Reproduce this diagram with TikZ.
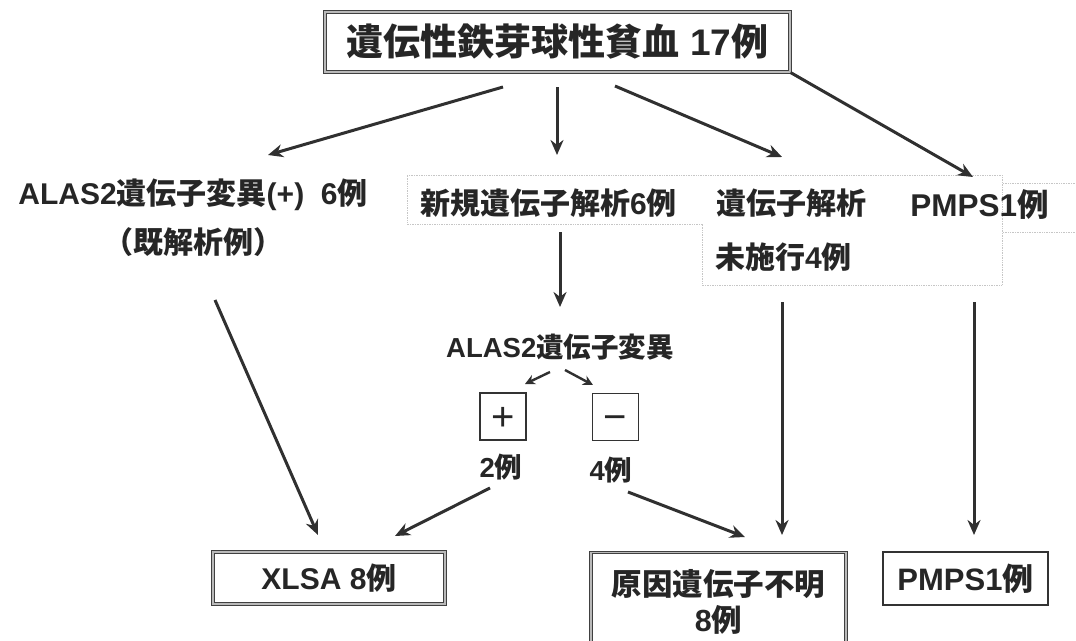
\documentclass[tikz,border=0pt]{standalone}
\usepackage{fontspec}
\setmainfont{Liberation Sans}
\newfontfamily\jpn{Noto Sans CJK JP}
\usetikzlibrary{arrows.meta}
\definecolor{ink}{HTML}{262626}
\definecolor{lineink}{HTML}{303030}
\begin{document}
\begin{tikzpicture}[x=1pt,y=-1pt,
  txt/.style={inner sep=0pt, text=ink, font=\bfseries\fontsize{30}{34}\selectfont},
  midtxt/.style={inner sep=0pt, text=ink, font=\bfseries\fontsize{27.5}{30}\selectfont},
  dbox/.style={draw=black!75, line width=1pt, double=gray!55, double distance=1.6pt, fill=white, inner sep=0pt},
  sbox/.style={draw=black!80, line width=2pt, fill=white, inner sep=0pt},
  pmbox/.style={draw=black!80, line width=1.2pt, fill=white, inner sep=0pt, minimum width=46pt, minimum height=47pt, text=ink, font=\fontsize{40}{40}\selectfont},
  faint/.style={draw=gray!45, line width=0.7pt, densely dotted},
  arr/.style={draw=lineink, line width=3pt, -{Stealth[length=15pt,width=13pt]}},
  sarr/.style={draw=lineink, line width=2.4pt, -{Stealth[length=10pt,width=10pt]}}
]
\useasboundingbox (0,0) rectangle (1076,640);

% faint boxes
\draw[faint] (703,224) -- (407,224) -- (407,175) -- (1002,175) -- (1002,285) -- (702,285) -- (702,224);
\draw[faint] (1003,183) -- (1080,183) (1003,232) -- (1080,232);

% top
\node[dbox, minimum width=465pt, minimum height=60pt, text=ink, font=\bfseries\fontsize{37}{40}\selectfont] (top) at (557.5,42)
  {{\jpn 遺伝性鉄芽球性貧血} 17{\jpn 例}};

% second row
\node[txt] (alas) at (193,195) {ALAS2{\jpn 遺伝子変異}(+)\ \ 6{\jpn 例}};
\node[txt] (kikai) at (193,242) {\jpn （既解析例）};
\node[txt] (shinki) at (548.5,203) {{\jpn 新規遺伝子解析}6{\jpn 例}};
\node[txt] (mi1) at (791,203) {\jpn 遺伝子解析};
\node[txt, anchor=west] (mi2) at (715,257) {{\jpn 未施行}4{\jpn 例}};
\node[txt, font=\bfseries\fontsize{31.5}{34}\selectfont] (pmps1) at (979.5,205) {PMPS1{\jpn 例}};

% middle
\node[midtxt] (alas2) at (560,347) {ALAS2{\jpn 遺伝子変異}};
\node[pmbox] (plus) at (503,416.5) {\smash{\raisebox{-13.5pt}{+}}};
\node[pmbox] (minus) at (615.5,417) {\smash{\raisebox{-13.5pt}{−}}};
\node[midtxt] (n2) at (501,467) {2{\jpn 例}};
\node[midtxt] (n4) at (611,470) {4{\jpn 例}};

% bottom
\node[dbox, minimum width=232pt, minimum height=52pt, text=ink, font=\bfseries\fontsize{30}{34}\selectfont] (xlsa) at (329,578) {XLSA 8{\jpn 例}};
\node[dbox, minimum width=255pt, minimum height=98pt, anchor=north, align=center, text=ink, font=\bfseries\fontsize{30.5}{36}\selectfont] (unk) at (718.5,552) {{\jpn 原因遺伝子不明}\\8{\jpn 例}};
\node[sbox, minimum width=165pt, minimum height=53pt, text=ink, font=\bfseries\fontsize{31}{34}\selectfont] (pmps2) at (965.5,578.5) {PMPS1{\jpn 例}};

% arrow end points
\coordinate (a1s) at (503,87);  \coordinate (a1e) at (268,155);
\coordinate (a2s) at (557,87);  \coordinate (a2e) at (557,155);
\coordinate (a3s) at (615,86);  \coordinate (a3e) at (782,157);
\coordinate (a4e) at (973,177);
\coordinate (a5s) at (560,232); \coordinate (a5e) at (560,307);
\coordinate (a6s) at (550,372); \coordinate (a6e) at (525,384);
\coordinate (a7s) at (565,370); \coordinate (a7e) at (593,385);
\coordinate (a8s) at (215,300); \coordinate (a8e) at (318,535);
\coordinate (a9s) at (490,488); \coordinate (a9e) at (395,536);
\coordinate (a10s) at (628,492); \coordinate (a10e) at (745,537);
\coordinate (a11s) at (782,302); \coordinate (a11e) at (782,535);
\coordinate (a12s) at (974,302); \coordinate (a12e) at (974,535);

\draw[arr] (a1s) -- (a1e);
\draw[arr] (a2s) -- (a2e);
\draw[arr] (a3s) -- (a3e);
\draw[arr] (top.south east) -- (a4e);
\draw[arr] (a5s) -- (a5e);
\draw[sarr] (a6s) -- (a6e);
\draw[sarr] (a7s) -- (a7e);
\draw[arr] (a8s) -- (a8e);
\draw[arr] (a9s) -- (a9e);
\draw[arr] (a10s) -- (a10e);
\draw[arr] (a11s) -- (a11e);
\draw[arr] (a12s) -- (a12e);
\end{tikzpicture}
\end{document}
